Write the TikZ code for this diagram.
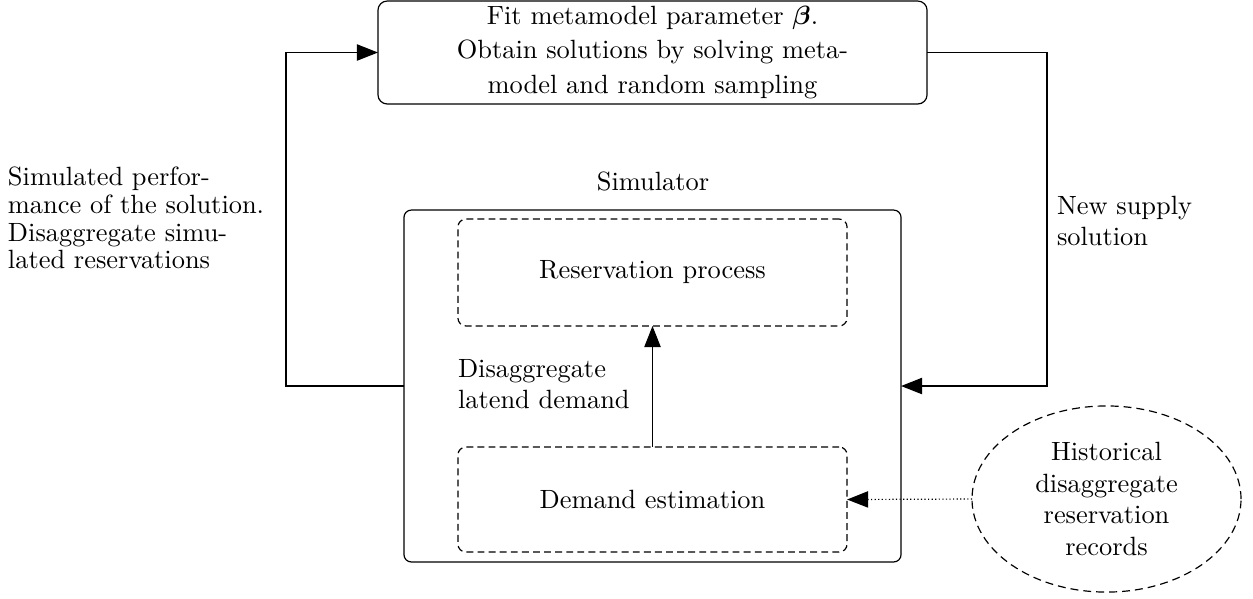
\documentclass[tikz,border=0pt]{standalone}
\usepackage{amsmath}
\usetikzlibrary{arrows.meta,shapes.geometric}
\tikzset{
  box/.style={draw, rounded corners=3.5pt, inner sep=0pt, outer sep=0pt, align=center},
  dbox/.style={draw, rounded corners=3pt, inner sep=0pt, outer sep=0pt, align=center, dash pattern=on 2.6pt off 1.6pt},
  lbl/.style={inner sep=0pt, outer sep=0pt},
  arr/.style={-{Triangle[length=8pt,width=6.2pt]}},
}
\begin{document}
\begin{tikzpicture}[x=0.3788pt, y=-0.3788pt, line width=0.45pt, font=\fontsize{10}{12}\selectfont]
\useasboundingbox (0,0) rectangle (1253,598);
\node[box, minimum width=208pt, minimum height=39pt, font=\fontsize{10}{13}\selectfont] (top) at (652.5,52.5)
  {Fit metamodel parameter $\boldsymbol{\beta}$.\\Obtain solutions by solving meta-\\model and random sampling};
\node[box, rounded corners=2.8pt, minimum width=188.3pt, minimum height=133.3pt] (sim) at (652.5,386) {};
\node[dbox, minimum width=147.4pt, minimum height=40.5pt] (res) at (652.5,272.5) {Reservation process};
\node[dbox, minimum width=147.4pt, minimum height=39.8pt] (dem) at (652.5,499.5) {Demand estimation};
\node[ellipse, draw, inner sep=0pt, outer sep=0pt, minimum width=101.9pt, minimum height=70.5pt, align=center,
  dash pattern=on 3pt off 1.9pt] (hist) at (1106.5,499)
  {Historical\\disaggregate\\reservation\\records};
\node[lbl] (simlbl) at (653,181) {Simulator};
\node[lbl, anchor=west, align=left, font=\fontsize{10}{10.5}\selectfont] (perf) at (8,218)
  {Simulated perfor-\\mance of the solution.\\Disaggregate simu-\\lated reservations};
\node[lbl, anchor=west, align=left] (supply) at (1057,221) {New supply\\solution};
\node[lbl, anchor=west, align=left] (lat) at (458,384) {Disaggregate\\latend demand};
\coordinate (lx) at (286,0);
\coordinate (rx) at (1047,0);
\draw[arr] (dem.north) -- (res.south);
\draw[arr] (sim.west) -- (sim.west -| lx) |- (top.west);
\draw[arr] (top.east) -- (top.east -| rx) |- (sim.east);
\draw[arr, dash pattern=on 0.45pt off 0.9pt] (hist.west) -- (dem.east);
\end{tikzpicture}
\end{document}
